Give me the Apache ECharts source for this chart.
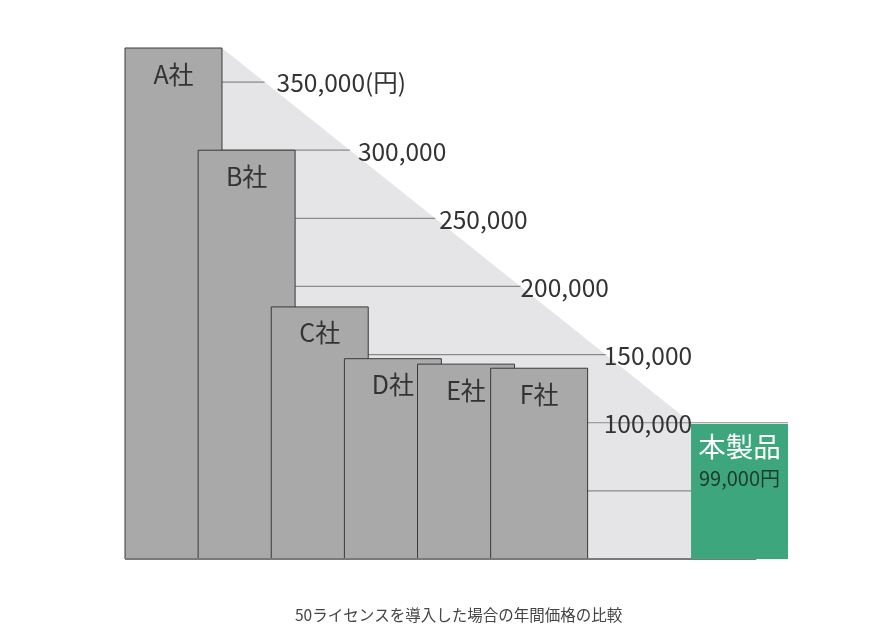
<!DOCTYPE html>
<html>
<head>
<meta charset="utf-8">
<script src="https://cdn.jsdelivr.net/npm/echarts@6/dist/echarts.min.js"></script>
<style>
html,body{margin:0;padding:0;background:#fff;}
#chart{width:877px;height:628px;}
</style>
</head>
<body>
<div id="chart"></div>
<script>
// ---- data ----
var companies = ['A社', 'B社', 'C社', 'D社', 'E社', 'F社'];
var prices = [375000, 300000, 185000, 147000, 143000, 140000];
var productName = '本製品';
var productPrice = 99000;
var productPriceLabel = '99,000円';
var tickValues = [50000, 100000, 150000, 200000, 250000, 300000, 350000];
var tickLabels = ['', '100,000', '150,000', '200,000', '250,000', '300,000', '350,000(円)'];
var chartTitle = '50ライセンスを導入した場合の年間価格の比較';

// ---- layout constants (not data) ----
var HALF = 0.663;          // half bar width in slot units
var PRODUCT_SLOT = 7.74;   // slot position of the product bar
var FONT = '"Noto Sans CJK JP", "Noto Sans", sans-serif';

var chart = echarts.init(document.getElementById('chart'));

function diagX(api, v) {
  var p0 = api.coord([0 + HALF, prices[0]]);
  var p1 = api.coord([PRODUCT_SLOT - HALF, 100000]);
  var y = api.coord([0, v])[1];
  return p0[0] + (y - p0[1]) / (p1[1] - p0[1]) * (p1[0] - p0[0]);
}

var option = {
  animation: false,
  title: {
    text: chartTitle,
    left: 290,
    top: 602,
    textStyle: { fontFamily: FONT, fontSize: 15.5, fontWeight: 'normal', color: '#444' }
  },
  grid: { left: 125, right: 89, top: 48, bottom: 69 },
  xAxis: { type: 'value', min: -HALF, max: PRODUCT_SLOT + HALF, show: false },
  yAxis: { type: 'value', min: 0, max: 375000, show: false, splitLine: { show: false } },
  series: [
    {
      type: 'custom',
      z: 1,
      data: [[0]],
      renderItem: function (params, api) {
        var a = api.coord([0 + HALF, prices[0]]);
        var b = api.coord([PRODUCT_SLOT - HALF, 100000]);
        var c = api.coord([PRODUCT_SLOT - HALF, 0]);
        var d = api.coord([0 + HALF, 0]);
        return {
          type: 'polygon',
          shape: { points: [a, b, c, d] },
          style: { fill: '#e5e5e7' }
        };
      }
    },
    {
      type: 'custom',
      z: 2,
      data: tickValues.map(function (v, i) { return [v, i]; }),
      renderItem: function (params, api) {
        var v = api.value(0);
        var i = api.value(1);
        var y = api.coord([0, v])[1];
        var x0 = api.coord([-HALF, v])[0];
        var x1 = v > 100000 ? diagX(api, v) : api.coord([PRODUCT_SLOT + HALF, v])[0];
        var children = [{
          type: 'line',
          shape: { x1: x0, y1: y, x2: x1, y2: y },
          style: { stroke: '#8a8a8a', lineWidth: 1.2 }
        }];
        var txt = tickLabels[i];
        if (txt) {
          var lx = v > 100000 ? diagX(api, v) + Math.max(0, v - 200000) * 0.00008 : diagX(api, 150000) - 2;
          if (v === 150000) lx -= 2;
          children.push({
            type: 'text',
            z2: 10,
            style: {
              x: lx, y: y + 1, text: txt,
              font: '24.5px ' + FONT,
              fill: '#333', textVerticalAlign: 'middle', textAlign: 'left'
            }
          });
        }
        return { type: 'group', children: children };
      }
    },
    {
      type: 'custom',
      z: 3,
      data: prices.map(function (v, i) { return [i, v]; }),
      renderItem: function (params, api) {
        var i = api.value(0);
        var v = api.value(1);
        var tl = api.coord([i - HALF, v]);
        var br = api.coord([i + HALF, 0]);
        return {
          type: 'group',
          children: [
            {
              type: 'rect',
              shape: { x: tl[0], y: tl[1], width: br[0] - tl[0], height: br[1] - tl[1] },
              style: { fill: '#a9a9aa', stroke: '#3a3a3a', lineWidth: 1 }
            },
            {
              type: 'text',
              style: {
                x: (tl[0] + br[0]) / 2, y: tl[1] + 26, text: companies[i],
                font: '25px ' + FONT, fill: '#333',
                textAlign: 'center', textVerticalAlign: 'middle'
              }
            }
          ]
        };
      }
    },
    {
      type: 'custom',
      z: 4,
      data: [[0]],
      renderItem: function (params, api) {
        var a = api.coord([-HALF, 0]);
        var b = api.coord([PRODUCT_SLOT + 0.23, 0]);
        return {
          type: 'line',
          shape: { x1: a[0], y1: a[1], x2: b[0], y2: b[1] },
          style: { stroke: '#7a7a7a', lineWidth: 2 }
        };
      }
    },
    {
      type: 'custom',
      z: 5,
      data: [[PRODUCT_SLOT, productPrice]],
      renderItem: function (params, api) {
        var s = api.value(0);
        var v = api.value(1);
        var tl = api.coord([s - HALF, v]);
        var br = api.coord([s + HALF, 0]);
        var cx = (tl[0] + br[0]) / 2;
        return {
          type: 'group',
          children: [
            {
              type: 'rect',
              shape: { x: tl[0], y: tl[1], width: br[0] - tl[0], height: br[1] - tl[1] },
              style: { fill: '#3ea67c' }
            },
            {
              type: 'text',
              style: {
                x: cx, y: tl[1] + 22, text: productName,
                font: '27.5px ' + FONT, fill: '#ffffff',
                textAlign: 'center', textVerticalAlign: 'middle'
              }
            },
            {
              type: 'text',
              style: {
                x: cx, y: tl[1] + 54, text: productPriceLabel,
                font: '20px ' + FONT, fill: '#1d3a2c',
                textAlign: 'center', textVerticalAlign: 'middle'
              }
            }
          ]
        };
      }
    }
  ]
};

chart.setOption(option);
</script>
</body>
</html>
